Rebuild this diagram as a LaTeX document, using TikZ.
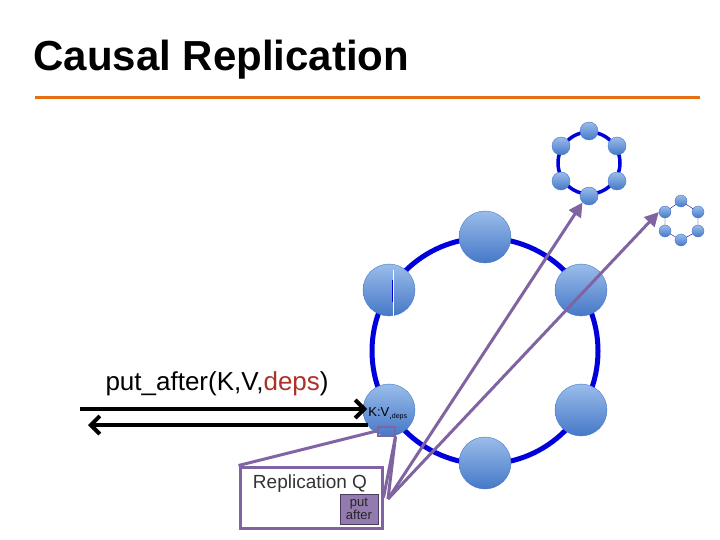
\documentclass[tikz,border=0pt]{standalone}
\usepackage{fontspec}
\setmainfont{Liberation Sans}
\usetikzlibrary{arrows.meta}
\definecolor{ring}{RGB}{0,0,220}
\definecolor{ball}{RGB}{110,160,225}
\definecolor{ballb}{RGB}{70,120,200}
\definecolor{purp}{RGB}{128,100,162}
\definecolor{orng}{RGB}{230,110,20}
\definecolor{depred}{RGB}{170,50,40}
\tikzset{
 srv/.style={circle,minimum size=#1,inner sep=0pt,draw=ballb,thin,top color=ball!70!white,bottom color=ballb},
 pl/.style={draw=purp,line width=3pt},
 pa/.style={pl,-{Triangle[length=14pt,width=14pt]}},
}
\begin{document}
\begin{tikzpicture}[x=1pt,y=-1pt]
\useasboundingbox (0,0) rectangle (720,540);
\node[anchor=west,font=\bfseries\fontsize{42}{46}\selectfont] (title) at (30,60) {Causal Replication};
\draw[orng,line width=3pt] (35,98) -- (700,98);
% main ring
\draw[ring,line width=5pt] (485,351) ellipse (113 and 113);
\foreach \n/\x/\y in {a/485/237,b/581/290,c/581/410,d/485/463,e/389/410,f/389/290}
  \node[srv=52pt] (\n) at (\x,\y) {};
\draw[white,line width=1pt] (393,270) -- (393,320);
\draw[ring,line width=1pt] (392,280) -- (392,302);
% small ring 1
\draw[ring,line width=3.5pt] (589,163) circle (31);
\foreach \n/\x/\y in {p1/589/131,p2/617/146,p3/617/181,p4/589/196,p5/561/181,p6/561/146}
  \node[srv=18pt] (\n) at (\x,\y) {};
% small ring 2
\draw[ring!60!black,thin] (681,201)--(698,212)--(698,231)--(681,240)--(665,231)--(665,212)--cycle;
\foreach \n/\x/\y in {q1/681/201,q2/698/212,q3/698/231,q4/681/240,q5/665/231,q6/665/212}
  \node[srv=12pt] (\n) at (\x,\y) {};
% label
\node[anchor=west,font=\fontsize{26}{30}\selectfont] (lbl) at (102,384) {put\_after(K,V,\textcolor{depred}{deps})};
\node[font=\fontsize{13}{14}\selectfont,inner sep=0pt] (kv) at (388,414) {K:V\textsubscript{,\fontsize{7}{7}\selectfont deps}};
% arrows
\coordinate (l1) at (80,409); \coordinate (r1) at (367,409);
\coordinate (l2) at (88,425); \coordinate (r2) at (368,425);
\draw[line width=4pt,-{Straight Barb[length=9pt,width=18pt]}] (l1) -- (r1);
\draw[line width=4pt,-{Straight Barb[length=9pt,width=18pt]}] (r2) -- (l2);
% queue marker
\node[draw=purp,line width=2pt,minimum width=17pt,minimum height=9pt,inner sep=0pt] (qm) at (386,431) {};
% replication Q box
\node[draw=purp,line width=3pt,minimum width=142pt,minimum height=61pt,inner sep=0pt] (qb) at (311,497.5) {};
\node[font=\fontsize{19}{22}\selectfont,text=black!80] (qt) at (310,484) {Replication Q};
\node[fill=purp!85,draw=purp!60!black,thick,minimum width=38pt,minimum height=30pt,inner sep=0pt,align=center,font=\fontsize{13}{12}\selectfont,text=black!85] (pa) at (359,509) {put\\after};
\draw[pl] (qm.west) -- (qb.north west);
\draw[pl] (qm.south east) -- (qb.east);
\coordinate (bs) at (388,499);
\draw[pl] (qm.south east) -- (bs);
\draw[pa] (bs) -- (p4.south west);
\draw[pa] (bs) -- (q6.west);
\end{tikzpicture}
\end{document}
